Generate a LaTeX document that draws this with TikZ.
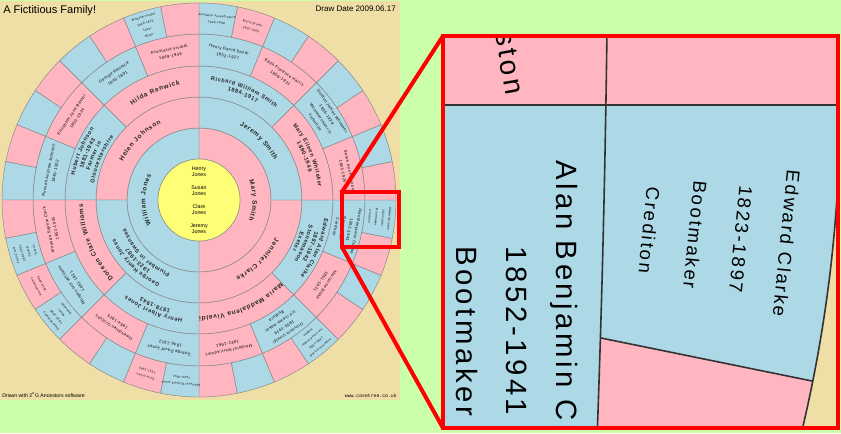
\documentclass[tikz,border=0pt]{standalone}
\usepackage{fontspec}
\usetikzlibrary{decorations.text}
\setmainfont{Liberation Sans}
\newfontfamily\lsfont[LetterSpace=12]{Liberation Sans}
\newfontfamily\lbfont{Liberation Sans Bold}
\newfontfamily\monofont{Liberation Mono}
\definecolor{bgreen}{RGB}{204,255,170}
\definecolor{tanc}{RGB}{239,222,165}
\definecolor{pinkc}{RGB}{255,182,193}
\definecolor{bluec}{RGB}{173,216,230}
\definecolor{yelc}{RGB}{255,255,119}
\definecolor{linec}{RGB}{135,135,135}
\newcommand\fA{\lbfont\fontsize{4.8}{6}\selectfont\kern0.55pt}
\newcommand\fB{\lbfont\fontsize{4.2}{5.2}\selectfont\kern0.45pt}
\newcommand\ctxt[5]{\node[#4, rotate=#2-90] (#1) at (#2:#3) {#5};}
\newcommand\arcline[4]{\path[decorate, decoration={text along path, text align=center, text color=black!85, text={|#3|#4}}] (#1+70:#2) arc[start angle=#1+70, end angle=#1-70, radius=#2];}
\begin{document}
\begin{tikzpicture}[x=0.75pt,y=-0.75pt,
  cell/.style={draw=linec, line width=0.35pt},
  t4/.style={font=\lsfont\fontsize{3}{5.2}\selectfont, inner sep=0pt, align=center},
  t5/.style={font=\lsfont\fontsize{2.2}{4.9}\selectfont, inner sep=0pt, align=center},
  redl/.style={draw=red, line width=3pt}]
\useasboundingbox (0,0) rectangle (841,433);
\fill[bgreen] (0,0) rectangle (841,433);
\fill[tanc] (0,1) rectangle (400,400);
\node[anchor=base west, font=\fontsize{8.3}{9}\selectfont, inner sep=0pt] (title) at (3,13) {A Fictitious Family!};
\node[anchor=base east, font=\fontsize{6}{7}\selectfont, inner sep=0pt] (date) at (396,11) {Draw Date 2009.06.17};
\node[anchor=base west, font=\fontsize{3.9}{4}\selectfont, inner sep=0pt] (drawn) at (2,397) {Drawn with 2\textsuperscript{o}G Ancestors software};
\node[anchor=base east, font=\monofont\fontsize{3.6}{4}\selectfont, inner sep=0pt] (www) at (397,397) {www.cosetree.co.uk};
\begin{scope}[shift={(199,200)}, x=0.75pt, y=0.75pt]
\foreach \ri/\ro/\n in {41/72/2,72/103/4,103/134/8,134/166/16,166/197/32}{
  \pgfmathtruncatemacro{\kmax}{\n-1}
  \foreach \k in {0,...,\kmax}{
    \pgfmathsetmacro{\aone}{-90+\k*360/\n}
    \pgfmathsetmacro{\atwo}{-90+(\k+1)*360/\n}
    \ifodd\k \def\cc{bluec}\else\def\cc{pinkc}\fi
    \path[cell, fill=\cc] (\aone:\ri) -- (\aone:\ro) arc[start angle=\aone, end angle=\atwo, radius=\ro] -- (\atwo:\ri) arc[start angle=\atwo, end angle=\aone, radius=\ri] -- cycle;
  }
}
\path[cell, fill=yelc] (0,0) circle[radius=41];
\node[font=\fontsize{4}{4.5}\selectfont, align=center, inner sep=0pt] (kids) at (0,0) {Henry\\Jones\\[5.2pt]Susan\\Jones\\[5.2pt]Clare\\Jones\\[5.2pt]Jeremy\\Jones};
% ring 1
\arcline{180}{53.7}{\fA}{William Jones}
\arcline{0}{53.7}{\fA}{Mary Smith}
% ring 2
\arcline{-45}{85.2}{\fA}{Jennifer Clarke}
\arcline{45}{85.2}{\fA}{Jeremy Smith}
\arcline{135}{85.2}{\fA}{Helen Johnson}
\arcline{225}{92.4}{\fB}{George Henry Jones}
\arcline{225}{85.5}{\fB}{1923-1987}
\arcline{225}{78.6}{\fB}{Plumber in Swansea}
% ring 3
\arcline{-67.5}{116.2}{\fA}{Maria Maddalena Vivaldi}
\arcline{-22.5}{126.8}{\fB}{Edward Alan Clarke}
\arcline{-22.5}{119.9}{\fB}{1887-1942}
\arcline{-22.5}{113.0}{\fB}{Stonemason}
\arcline{-22.5}{106.1}{\fB}{Exeter}
\arcline{22.5}{119.9}{\fB}{Mary Eileen Whitaker}
\arcline{22.5}{113.0}{\fB}{1890-1949}
\arcline{67.5}{119.9}{\fB}{Richard William Smith}
\arcline{67.5}{113.0}{\fB}{1884-1917}
\arcline{112.5}{116.2}{\fA}{Hilda Renwick}
\arcline{157.5}{126.8}{\fB}{Hubert Johnson}
\arcline{157.5}{119.9}{\fB}{1881-1943}
\arcline{157.5}{113.0}{\fB}{Farmer in}
\arcline{157.5}{106.1}{\fB}{Gloucestershire}
\arcline{202.5}{116.2}{\fA}{Doreen Clare Williams}
\arcline{247.5}{119.9}{\fB}{Henry Albert Jones}
\arcline{247.5}{113.0}{\fB}{1878-1943}
% ring 4
\ctxt{q1}{-78.75}{150}{t4}{Margaret Mary Adams\\1881-1961}
\ctxt{q2}{-56.25}{150}{t4}{Giovanni Vivaldi\\1855-1919\\Ice cream maker\\Bedford}
\ctxt{q3}{-33.75}{150}{t4}{Marianne Blake\\1851-1921}
\ctxt{q4}{-11.25}{150}{t4}{Alan Benjamin Clarke\\1852-1941\\Bootmaker\\Crediton}
\ctxt{q5}{11.25}{150}{t4}{Sarah Ann Preston\\1855-1925}
\ctxt{q6}{33.75}{150}{t4}{Gordon James Whitaker\\1855-1928\\Woolmerchant in\\Yorkshire}
\ctxt{q7}{56.25}{150}{t4}{Edith Florence Harris\\1856-1931}
\ctxt{q8}{78.75}{150}{t4}{Henry David Smith\\1852-1927}
\ctxt{q9}{101.25}{150}{t4}{Anastasia Vivaldi\\1849-1946}
\ctxt{q10}{123.75}{150}{t4}{George Renwick\\1845-1891}
\ctxt{q11}{146.25}{150}{t4}{Elizabeth Jane Baxter\\1853-1924}
\ctxt{q12}{168.75}{150}{t4}{Russell Andrew Johnson\\1849-1902}
\ctxt{q13}{191.25}{150}{t4}{Miranda Sophie Clark\\1853-1935}
\ctxt{q14}{213.75}{150}{t4}{Morgan Ivor Williams\\1851-1921}
\ctxt{q15}{236.25}{150}{t4}{Gwendolen Griffiths\\1854-1925}
\ctxt{q16}{258.75}{150}{t4}{George David Jones\\1846-1912}
% ring 5
\ctxt{f3}{-50.625}{181.5}{t5}{Augustus Vivaldi\\1830-1890\\Ice cream maker\\Naples}
\ctxt{f7}{-5.625}{181.5}{t5}{Edward Clarke\\1823-1897\\Bootmaker\\Crediton}
\ctxt{f14}{73.125}{181.5}{t5}{Marie Brown\\1830-1900}
\ctxt{f15}{84.375}{181.5}{t5}{Benjamin Joseph Smith\\1830-1898}
\ctxt{f17}{106.875}{181.5}{t5}{Wilhelm Vivaldi\\1820-1870\\Tailor\\Milan}
\ctxt{f25}{196.875}{181.5}{t5}{John Clark\\1830-1901\\Farmer\\Devon}
\ctxt{f26}{208.125}{181.5}{t5}{Ann Williams\\1829-1905}
\ctxt{f27}{219.375}{181.5}{t5}{Owen Williams\\1825-1890\\Miner\\Rhondda}
\ctxt{f30}{253.125}{181.5}{t5}{Elsie Jones\\1821-1900}
\ctxt{f31}{264.375}{181.5}{t5}{Ebenezer Richard Jones\\1820-1891}
\end{scope}
% zoom frame and connectors
\coordinate (sa) at (342,192);
\coordinate (sb) at (399,247);
\coordinate (sc) at (342,247);
\coordinate (ba) at (443,36);
\coordinate (bb) at (838,428);
\coordinate (bc) at (443,428);
\draw[redl] (sa) rectangle (sb);
\draw[redl] (sa) -- (ba);
\draw[redl] (sc) -- (bc);
% inset
\begin{scope}
\clip (ba) rectangle (bb);
\fill[bluec] (ba) rectangle (bb);
\fill[pinkc] (430,20) rectangle (850,105);
\fill[pinkc] (601,338) -- (812,381) -- (850,440) -- (596,440) -- cycle;
\begin{scope}[shift={(-560,105)}, x=0.75pt, y=0.75pt]
\fill[tanc, even odd rule] (0,0) circle[radius=1700] (0,0) circle[radius=1400];
\draw[black!80, line width=1.2pt] (0,0) circle[radius=1400];
\end{scope}
\draw[black!80, line width=1.2pt] (430,105) -- (840,105);
\draw[black!80, line width=1.2pt] (601,338) -- (812,381);
\draw[black!80, line width=1.2pt] (607,30) .. controls (605,180) and (602,300) .. (597,440);
\node[font=\lsfont\fontsize{22}{37.5}\selectfont, align=center, inner sep=0pt, rotate=-90] (bigq4) at (492,331) {Alan Benjamin Clarke\\1852-1941\\Bootmaker\\Crediton};
\node[font=\lsfont\fontsize{21}{37.5}\selectfont, inner sep=0pt, rotate=-80, anchor=base east] (bigq5) at (506,96) {Sarah Ann Preston};
\node[font=\lsfont\fontsize{14}{34.5}\selectfont, align=center, inner sep=0pt, rotate=-95.625] (bigf7) at (718,237) {Edward Clarke\\1823-1897\\Bootmaker\\Crediton};
\end{scope}
\draw[redl] (ba) rectangle (bb);
\end{tikzpicture}
\end{document}
